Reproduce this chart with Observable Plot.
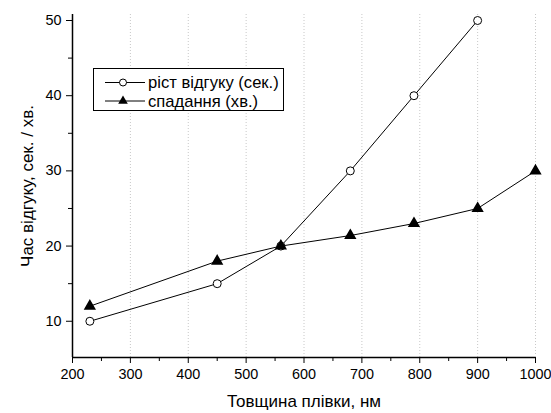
<!DOCTYPE html>
<html><head><meta charset="utf-8">
<script src="https://cdn.jsdelivr.net/npm/d3@7"></script>
<script src="https://cdn.jsdelivr.net/npm/@observablehq/plot@0.6"></script>
<style>
body{margin:0;background:#fff;font-family:"Liberation Sans",Arial,sans-serif;}
#wrap{position:relative;width:551px;height:413px;}
#legend{position:absolute;left:93px;top:68px;}
#chart svg text{font-size:14.4px;font-family:"Liberation Sans",Arial,sans-serif;fill:#000;}
#chart svg g[aria-label="x-axis label"] text, #chart svg g[aria-label="y-axis label"] text{font-size:17px;}
#legend text{font-size:16.6px;font-family:"Liberation Sans",Arial,sans-serif;}
</style></head><body>
<div id="wrap"><div id="chart"></div>
<svg id="legend" width="192" height="44"></svg></div>
<script>
const thickness = [230, 450, 560, 680, 790, 900];
const riseSec = [10, 15, 20, 30, 40, 50];
const thickness2 = [230, 450, 560, 680, 790, 900, 1000];
const fallMin = [12, 18, 20, 21.4, 23, 25, 30];
const xTicks = [200, 300, 400, 500, 600, 700, 800, 900, 1000];
const xMinor = [250, 350, 450, 550, 650, 750, 850, 950];
const yTicks = [10, 20, 30, 40, 50];
const yMinor = [15, 25, 35, 45];
const seriesNames = ["ріст відгуку (сек.)", "спадання (хв.)"];
const xDomain = [200, 1000];
const yDomain = [5.18, 50.8];

const rise = thickness.map((t, i) => ({t, v: riseSec[i]}));
const fall = thickness2.map((t, i) => ({t, v: fallMin[i]}));

const chart = Plot.plot({
  width: 551, height: 413,
  marginLeft: 72, marginRight: 16, marginTop: 14, marginBottom: 56,
  style: {fontFamily: "'Liberation Sans', Arial, sans-serif", fontSize: "14.4px", color: "#000", background: "#fff"},
  x: {domain: xDomain},
  y: {domain: yDomain},
  marks: [
    Plot.ruleX(xTicks.slice(1), {stroke: "#c8c8c8", strokeDasharray: "1,2", strokeWidth: 1}),
    Plot.axisX(xTicks, {tickSize: 6, tickPadding: 5, tickFormat: "d", label: "Товщина плівки, нм", labelAnchor: "center", labelArrow: "none", labelOffset: 49}),
    Plot.axisX(xMinor, {tickSize: 4, tickFormat: () => "", label: null}),
    Plot.axisY(yTicks, {tickSize: 6, tickPadding: 5, label: "Час відгуку, сек. / хв.", labelAnchor: "center", labelArrow: "none", labelOffset: 52}),
    Plot.axisY(yMinor, {tickSize: 4, tickFormat: () => "", label: null}),
    Plot.ruleX([xDomain[0]], {stroke: "#000", strokeWidth: 1.5}),
    Plot.ruleY([yDomain[0]], {stroke: "#000", strokeWidth: 1.5}),
    Plot.line(rise, {x: "t", y: "v", stroke: "#000", strokeWidth: 1}),
    Plot.line(fall, {x: "t", y: "v", stroke: "#000", strokeWidth: 1}),
    Plot.dot(rise, {x: "t", y: "v", r: 4, fill: "#fff", stroke: "#000", strokeWidth: 1}),
    Plot.dot(fall, {x: "t", y: "v", r: 3.6, symbol: "triangle", fill: "#000", stroke: "#000"})
  ]
});
document.getElementById("chart").appendChild(chart);

// legend
const lg = d3.select("#legend");
lg.append("rect").attr("x", 0.5).attr("y", 0.5).attr("width", 190).attr("height", 42).attr("fill", "#fff").attr("stroke", "#000");
seriesNames.forEach((name, i) => {
  const cy = 14.5 + i * 18.5;
  lg.append("line").attr("x1", 12).attr("x2", 52).attr("y1", cy).attr("y2", cy).attr("stroke", "#000");
  if (i === 0) lg.append("circle").attr("cx", 30).attr("cy", cy).attr("r", 3.5).attr("fill", "#fff").attr("stroke", "#000");
  else lg.append("path").attr("d", d3.symbol(d3.symbolTriangle, 40)()).attr("transform", `translate(30,${cy})`).attr("fill", "#000");
  lg.append("text").attr("x", 55).attr("y", cy).attr("dy", "0.35em").text(name);
});
</script></body></html>
